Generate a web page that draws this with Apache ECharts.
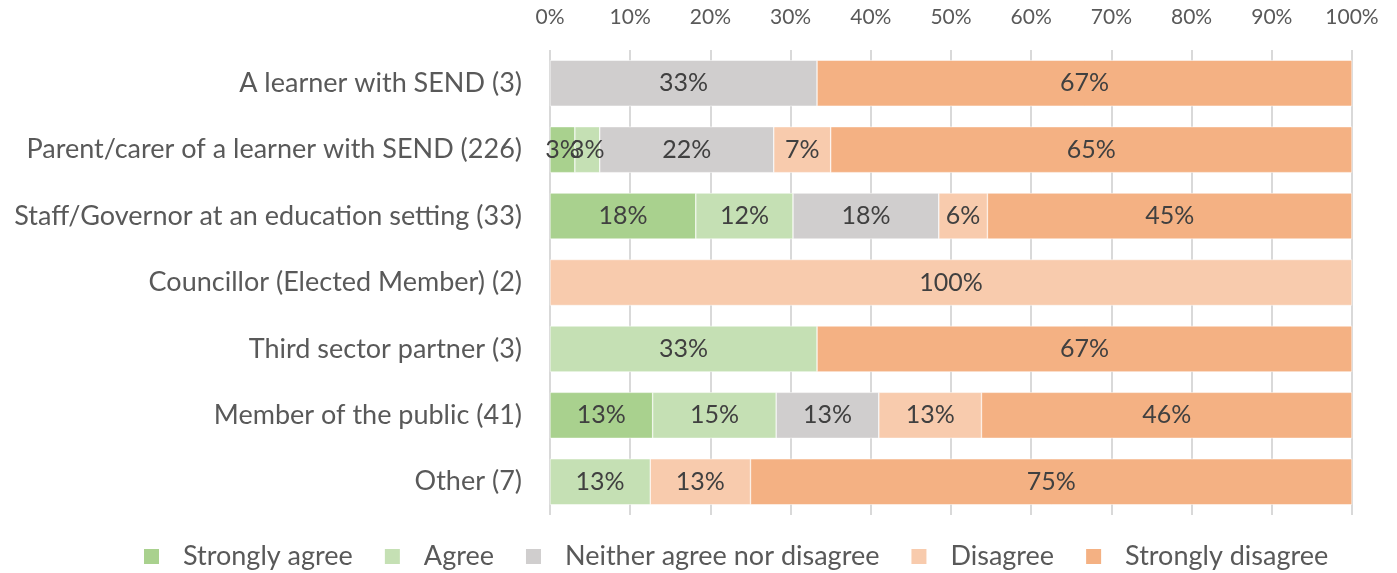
<!DOCTYPE html>
<html><head><meta charset="utf-8">
<script src="https://cdn.jsdelivr.net/npm/echarts@6/dist/echarts.min.js"></script>
<style>html,body{margin:0;padding:0;background:#fff}#c{width:1397px;height:573px}</style>
</head><body><div id="c"></div>
<script>
const categories = ["A learner with SEND (3)","Parent/carer of a learner with SEND (226)","Staff/Governor at an education setting (33)","Councillor (Elected Member) (2)","Third sector partner (3)","Member of the public (41)","Other (7)"];
const seriesNames = ["Strongly agree","Agree","Neither agree nor disagree","Disagree","Strongly disagree"];
const stronglyAgree = [0, 3.1, 18.18, 0, 0, 12.8, 0];
const agree = [0, 3.1, 12.12, 0, 33.3, 15.4, 12.5];
const neither = [33.3, 21.7, 18.18, 0, 0, 12.8, 0];
const disagree = [0, 7.1, 6.06, 100, 0, 12.8, 12.5];
const stronglyDisagree = [66.7, 65.0, 45.45, 0, 66.7, 46.2, 75];
const xTicks = [0,10,20,30,40,50,60,70,80,90,100];
const colors = ["#A9D18E","#C5E0B4","#D0CECE","#F8CBAD","#F4B183"];
const FONT = "Lato";
const values = [stronglyAgree, agree, neither, disagree, stronglyDisagree];
const chart = echarts.init(document.getElementById('c'), null, {renderer:'canvas'});
chart.setOption({
  animation:false,
  textStyle:{fontFamily:FONT},
  color:colors,
  grid:{left:550,right:45,top:50,bottom:58},
  legend:{bottom:-2,left:137,itemWidth:17,itemHeight:17,itemGap:30,icon:'rect',
    textStyle:{fontSize:27,color:'#595959',fontFamily:FONT,padding:[0,0,0,18]},data:seriesNames},
  xAxis:{type:'value',position:'top',min:xTicks[0],max:xTicks[xTicks.length-1],interval:10,
    axisLine:{show:false},axisTick:{show:false},
    axisLabel:{formatter:'{value}%',fontSize:21,color:'#595959',margin:22,fontFamily:FONT},
    splitLine:{show:true,lineStyle:{color:'#D9D9D9',width:2}}},
  yAxis:{type:'category',data:categories,inverse:true,
    axisLine:{show:false},axisTick:{show:false},
    axisLabel:{fontSize:27,color:'#595959',margin:28,fontFamily:FONT}},
  series:seriesNames.map((n,i)=>({
    name:n,type:'bar',stack:'all',barWidth:46,
    data:values[i].map(v=>v===0?null:v),
    itemStyle:{color:colors[i],borderColor:'#fff',borderWidth:0.5},
    label:{show:true,position:'inside',fontSize:25,color:'#404040',fontFamily:FONT,
      formatter:p=>Math.round(p.value)+'%'}
  }))
});
</script></body></html>
